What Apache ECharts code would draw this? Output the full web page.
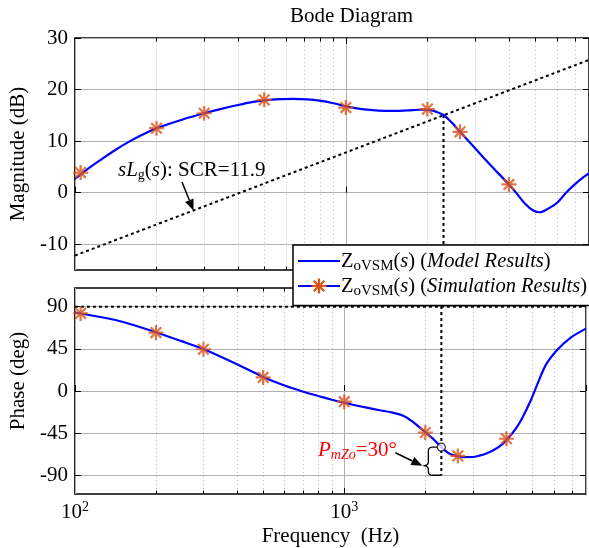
<!DOCTYPE html>
<html><head><meta charset="utf-8">
<script src="https://cdn.jsdelivr.net/npm/echarts@6/dist/echarts.min.js"></script>
<style>html,body{margin:0;padding:0;background:#fff}#c{width:589px;height:548px}</style>
</head><body><div id="c"></div>
<script>
const FONT = '"Liberation Serif","Times New Roman",serif';

// Model magnitude curve (Hz, dB)
const magFreq = [100,112,126,141,158,178,200,250,300,350,400,450,500,570,640,720,800,900,1000,1100,1200,1320,1445,1580,1700,1850,1950,2050,2150,2294,2450,2640,3000,3500,4000,4250,4600,4900,5200,5500,6040,6500,7000,7500,7900];
const magDb   = [2.65,4.68,6.55,8.28,9.85,11.28,12.5,14.2,15.4,16.3,17.0,17.55,17.9,18.15,18.2,18.1,17.85,17.35,16.75,16.35,16.1,15.93,15.85,15.88,15.96,16.08,16.12,16.02,15.72,15.07,13.7,11.8,8.6,4.8,1.6,0,-2.2,-3.4,-3.8,-3.3,-1.9,0,1.6,2.9,3.8];
// Model phase curve (Hz, deg)
const phaseFreq = [100,130,150,200,250,300,400,500,600,700,800,900,1000,1200,1368,1500,1615,1710,1807,1900,2000,2168,2294,2393,2500,2636,2800,2990,3200,3350,3550,3750,4000,4315,4560,4954,5246,5626,6208,6937,7900];
const phaseDeg  = [83.8,78,74,62.8,53,44.8,28.5,15,5.8,-0.5,-5.3,-9.3,-12.6,-17.5,-20.8,-22.8,-25.2,-28.5,-33.5,-38.5,-44,-52.8,-60,-64.8,-67.8,-69.6,-70.6,-70.5,-68.8,-67,-63.8,-59.8,-52.5,-41,-29.8,-8.5,9.2,28.7,44.6,57.1,66.6];
// Simulation points
const simFreq  = [105,200,300,500,1000,2000,2640,4000];
const simMag   = [3.9,12.5,15.4,18.0,16.5,16.2,11.8,1.6];
const simPhase = [82.9,62.4,44.6,14.5,-11.4,-44.3,-69.3,-51];
// sLg(s) line
const lgFreq = [100,7900];
const lgDb   = [-12.2,25.75];
// crossover
const crossFreq = 2294, crossMag = 15.07, crossPhase = -60;
// ticks
const magTicks = [-10,0,10,20,30];
const phaseTicks = [-90,-45,0,45,90];
const minorFreq = [200,300,400,500,600,700,800,900,2000,3000,4000,5000,6000,7000];
const xMin = 100, xMax = 7900;

const BLUE = '#0000ff', ORANGE = '#d95319';
const STAR = 'path://M10,0L10,20M0,10L20,10M2.93,2.93L17.07,17.07M2.93,17.07L17.07,2.93';

const chart = echarts.init(document.getElementById('c'));

function xAxisDef(gi, labels) {
  return {
    type: 'log', logBase: 10, gridIndex: gi, min: xMin, max: xMax,
    axisLine: {show: false},
    axisTick: {show: true, inside: true, length: 6, lineStyle: {color: '#000'}},
    splitLine: {show: true, lineStyle: {color: '#b0b0b0', width: 1}},
    axisLabel: labels ? {
      show: true, fontFamily: FONT, fontSize: 21, color: '#000', margin: 6,
      formatter: v => { const l = Math.log10(v); return Math.abs(l - Math.round(l)) < 1e-6 ? '10{sup|' + Math.round(l) + '}' : ''; },
      rich: {sup: {fontFamily: FONT, fontSize: 14, color: '#000', padding: [0, 0, 10, 0]}}
    } : {show: false},
    name: labels ? 'Frequency  (Hz)' : '', nameLocation: 'middle', nameGap: 32,
    nameTextStyle: {fontFamily: FONT, fontSize: 21, color: '#000'}
  };
}
function yAxisDef(gi, min, max, ticks, name, pad) {
  return {
    type: 'value', gridIndex: gi, min: min, max: max,
    axisLine: {show: false},
    axisTick: {show: true, inside: true, length: 6, customValues: ticks, lineStyle: {color: '#000'}},
    axisLabel: {customValues: ticks, fontFamily: FONT, fontSize: 21, color: '#000', margin: 7},
    splitLine: {show: true, lineStyle: {color: '#b0b0b0', width: 1}},
    name: name, nameLocation: 'middle', nameGap: 40,
    nameTextStyle: {fontFamily: FONT, fontSize: 21, color: '#000', padding: pad}
  };
}
function rightAxis(gi, min, max, ticks) {
  return {
    type: 'value', gridIndex: gi, min: min, max: max, position: 'right',
    axisLine: {show: false}, axisLabel: {show: false}, splitLine: {show: false},
    axisTick: {show: true, inside: true, length: 6, customValues: ticks, lineStyle: {color: '#000'}}
  };
}
function minorRender(params, api) {
  const cs = params.coordSys;
  const x = Math.round(api.coord([api.value(0), api.value(1)])[0]) + 0.5;
  const major = api.value(2) === 1;
  const tl = major ? 6 : 3.5;
  const ch = [];
  if (!major) ch.push({type: 'line', shape: {x1: x, y1: cs.y, x2: x, y2: cs.y + cs.height},
    style: {stroke: '#bdbdbd', lineWidth: 1, lineDash: [1, 3]}});
  ch.push({type: 'line', shape: {x1: x, y1: cs.y + cs.height, x2: x, y2: cs.y + cs.height - tl}, style: {stroke: '#000', lineWidth: 1}});
  ch.push({type: 'line', shape: {x1: x, y1: cs.y, x2: x, y2: cs.y + tl}, style: {stroke: '#000', lineWidth: 1}});
  return {type: 'group', children: ch};
}
const minorData = minorFreq.map(f => [f, 0, 0]).concat([[1000, 0, 1]]);
const zip = (a, b) => a.map((v, i) => [v, b[i]]);
const dotted = {color: '#000', width: 2, type: [3, 3]};

chart.setOption({
  animation: false,
  backgroundColor: '#fff',
  title: {text: 'Bode Diagram', left: 290, top: 6, padding: 0,
    textStyle: {fontFamily: FONT, fontSize: 21, fontWeight: 'normal', color: '#000'}},
  grid: [
    {left: 69, top: 38, width: 520, height: 232, show: true, borderColor: '#000', borderWidth: 1.5, backgroundColor: '#fff'},
    {left: 69, top: 288, width: 520, height: 207, show: true, borderColor: '#000', borderWidth: 1.5, backgroundColor: '#fff'}
  ],
  xAxis: [xAxisDef(0, false), xAxisDef(1, true)],
  yAxis: [
    yAxisDef(0, -15, 30, magTicks, 'Magnitude (dB)', [0, 0, 0, 0]),
    yAxisDef(1, -110, 110, phaseTicks, 'Phase (deg)', [0, 0, 0, 20]),
    rightAxis(0, -15, 30, magTicks),
    rightAxis(1, -110, 110, phaseTicks)
  ],
  series: [
    {type: 'custom', xAxisIndex: 0, yAxisIndex: 0, renderItem: minorRender, data: minorData, silent: true, z: 1},
    {type: 'custom', xAxisIndex: 1, yAxisIndex: 1, renderItem: minorRender, data: minorData, silent: true, z: 1},
    {name: 'sLg', type: 'line', xAxisIndex: 0, yAxisIndex: 0, data: zip(lgFreq, lgDb), symbol: 'none', lineStyle: dotted, silent: true, z: 2},
    {type: 'line', xAxisIndex: 0, yAxisIndex: 0, data: [[crossFreq, crossMag], [crossFreq, -15]], symbol: 'none', lineStyle: dotted, silent: true, z: 2},
    {type: 'line', xAxisIndex: 1, yAxisIndex: 1, data: [[crossFreq, 110], [crossFreq, -90]], symbol: 'none', lineStyle: dotted, silent: true, z: 2},
    {type: 'line', xAxisIndex: 1, yAxisIndex: 1, data: [[xMin, 90], [xMax, 90]], symbol: 'none', lineStyle: dotted, silent: true, z: 2},
    {name: 'Model', type: 'line', xAxisIndex: 0, yAxisIndex: 0, data: zip(magFreq, magDb), showSymbol: false, symbol: 'none', smooth: 0.3,
      lineStyle: {color: BLUE, width: 2.2}, z: 3},
    {name: 'Model', type: 'line', xAxisIndex: 1, yAxisIndex: 1, data: zip(phaseFreq, phaseDeg), showSymbol: false, symbol: 'none', smooth: 0.3,
      lineStyle: {color: BLUE, width: 2.2}, z: 3},
    {name: 'Simulation', type: 'scatter', xAxisIndex: 0, yAxisIndex: 0, data: zip(simFreq, simMag), symbol: STAR, symbolSize: 15,
      itemStyle: {color: 'none', borderColor: ORANGE, borderWidth: 2.2}, z: 4},
    {name: 'Simulation', type: 'scatter', xAxisIndex: 1, yAxisIndex: 1, data: zip(simFreq, simPhase), symbol: STAR, symbolSize: 15,
      itemStyle: {color: 'none', borderColor: ORANGE, borderWidth: 2.2}, z: 4},
    {type: 'scatter', xAxisIndex: 1, yAxisIndex: 1, data: [[crossFreq, crossPhase]], symbol: 'circle', symbolSize: 8,
      itemStyle: {color: '#fff', borderColor: '#000', borderWidth: 1.2}, z: 5}
  ]
});

// ---- annotations placed relative to data through the axes ----
const toPx = (gi, p) => chart.convertToPixel({xAxisIndex: gi, yAxisIndex: gi}, p);
function arrow(tail, tip) {
  const dx = tip[0] - tail[0], dy = tip[1] - tail[1], L = Math.hypot(dx, dy);
  const ux = dx / L, uy = dy / L, hl = 11, hw = 4.5;
  const bx = tip[0] - ux * hl, by = tip[1] - uy * hl;
  return [
    {type: 'line', z: 100, shape: {x1: tail[0], y1: tail[1], x2: bx, y2: by}, style: {stroke: '#000', lineWidth: 1.5}},
    {type: 'polygon', z: 100, shape: {points: [tip, [bx - uy * hw, by + ux * hw], [bx + uy * hw, by - ux * hw]]}, style: {fill: '#000'}}
  ];
}
function quad(p0, c, p1, n) {
  const out = [];
  for (let i = 1; i <= n; i++) {
    const t = i / n, a = (1 - t) * (1 - t), b = 2 * t * (1 - t), e = t * t;
    out.push([a * p0[0] + b * c[0] + e * p1[0], a * p0[1] + b * c[1] + e * p1[1]]);
  }
  return out;
}
const gfx = [];
// sLg arrow + label
const fTip = 274;
const lgAt = f => lgDb[0] + (lgDb[1] - lgDb[0]) * Math.log10(f / lgFreq[0]) / Math.log10(lgFreq[1] / lgFreq[0]);
const tip1 = toPx(0, [fTip, lgAt(fTip)]);
gfx.push(...arrow([tip1[0] - 11.5, tip1[1] - 28.5], tip1));
gfx.push({type: 'text', z: 100, x: 118, y: 170, style: {
  text: '{i|sL}{sub|g}({i|s}): SCR=11.9', fontFamily: FONT, fontSize: 21, fill: '#000', verticalAlign: 'middle',
  rich: {i: {fontFamily: FONT, fontSize: 21, fontStyle: 'italic', fill: '#000'},
         sub: {fontFamily: FONT, fontSize: 14, fill: '#000', padding: [10, 0, 0, 0]}}}});
// brace between -60 and -90 at the crossover
const pc = toPx(1, [crossFreq, crossPhase]);
const pb = toPx(1, [crossFreq, -90]);
const xC = pc[0], yT = pc[1], yB = pb[1], xB = xC - 13, yM = yT + 0.66 * (yB - yT);
let pts = [[xC - 4, yT], [xB + 4, yT]];
pts = pts.concat(quad([xB + 4, yT], [xB, yT], [xB, yT + 4], 5));
pts.push([xB, yM - 4]);
pts = pts.concat(quad([xB, yM - 4], [xB, yM], [xB - 5, yM], 5));
pts = pts.concat(quad([xB - 5, yM], [xB, yM], [xB, yM + 4], 5));
pts.push([xB, yB - 4]);
pts = pts.concat(quad([xB, yB - 4], [xB, yB], [xB + 4, yB], 5));
pts.push([xC, yB]);
gfx.push({type: 'polyline', z: 99, shape: {points: pts}, style: {fill: null, stroke: '#000', lineWidth: 1.3}});
const tip2 = [xB - 6, yM];
gfx.push(...arrow([tip2[0] - 27, tip2[1] - 13], tip2));
gfx.push({type: 'text', z: 100, x: 318, y: 450, style: {
  text: '{i|P}{isub|mZo}=30°', fontFamily: FONT, fontSize: 21, fill: '#ff0000', verticalAlign: 'middle',
  rich: {i: {fontFamily: FONT, fontSize: 21, fontStyle: 'italic', fill: '#ff0000'},
         isub: {fontFamily: FONT, fontSize: 14, fontStyle: 'italic', fill: '#ff0000', padding: [10, 0, 0, 0]}}}});
// legend box
const LX = 293, LY = 245;
gfx.push({type: 'rect', z: 110, shape: {x: LX, y: LY, width: 320, height: 60.5}, style: {fill: '#fff', stroke: '#000', lineWidth: 1.5}});
const legRich = {
  sub: {fontFamily: FONT, fontSize: 15, fill: '#000', padding: [9, 0, 0, 0]},
  i: {fontFamily: FONT, fontSize: 20.5, fontStyle: 'italic', fill: '#000'}
};
[['Model Results', 261], ['Simulation Results', 286]].forEach(([lab, y], k) => {
  gfx.push({type: 'line', z: 111, shape: {x1: 298, y1: y, x2: 340, y2: y}, style: {stroke: BLUE, lineWidth: 2.2}});
  if (k === 1) {
    const cx = 319, r = 7.5, c = 0.7071 * r;
    [[cx, y - r, cx, y + r], [cx - r, y, cx + r, y], [cx - c, y - c, cx + c, y + c], [cx - c, y + c, cx + c, y - c]].forEach(s => {
      gfx.push({type: 'line', z: 112, shape: {x1: s[0], y1: s[1], x2: s[2], y2: s[3]}, style: {stroke: ORANGE, lineWidth: 2.2}});
    });
  }
  gfx.push({type: 'text', z: 112, x: 341, y: y + 1, style: {
    text: 'Z{sub|oVSM}({i|s}) ({i|' + lab + '})', fontFamily: FONT, fontSize: 20.5, fill: '#000', verticalAlign: 'middle', rich: legRich}});
});
chart.setOption({graphic: {elements: gfx}});
</script></body></html>
